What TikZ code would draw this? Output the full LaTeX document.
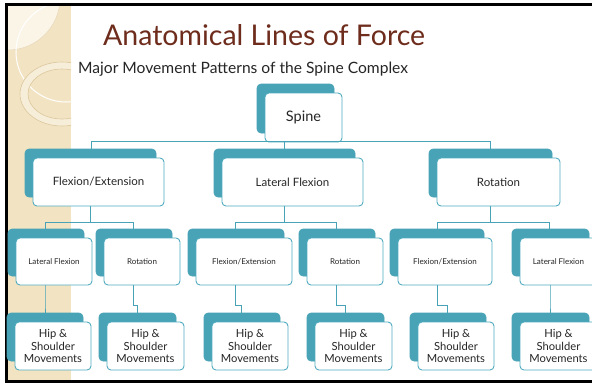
\documentclass[tikz,border=0pt]{standalone}
\usepackage{fontspec}
\setmainfont{Lato}
\definecolor{teal1}{HTML}{48A3B6}
\definecolor{teal2}{HTML}{52ABBE}
\definecolor{beige}{HTML}{F2E3C2}
\definecolor{cream}{HTML}{FBF5E8}
\definecolor{tan1}{HTML}{DCC79D}
\definecolor{titlec}{HTML}{6E2C1C}
\tikzset{
  shadebox/.style={fill=teal1, draw=teal1, line width=0.6pt, rounded corners=4pt, inner sep=0pt},
  frontbox/.style={fill=white, draw=teal2, line width=0.9pt, rounded corners=4pt, inner sep=0pt, align=center, text=black!85},
  conn/.style={draw=teal1, line width=0.9pt},
  lvone/.style={font=\fontsize{14.5}{16}\selectfont},
  lvtwo/.style={font=\fontsize{11.5}{13}\selectfont},
  lvthree/.style={font=\fontsize{8}{9.5}\selectfont},
  lvfour/.style={font=\fontsize{11.2}{12.5}\selectfont},
}
% #1 name, #2 cx, #3 cy, #4 w, #5 h, #6 style, #7 text
\newcommand\mybox[7]{%
  \node[shadebox, minimum width=#4pt, minimum height=#5pt] (s#1) at ({#2-8},{#3-9}) {};
  \node[frontbox, minimum width=#4pt, minimum height=#5pt, #6] (#1) at (#2,#3) {#7};
}
\begin{document}
\begin{tikzpicture}[x=1pt,y=-1pt]
\useasboundingbox (0,0) rectangle (592,384);
\fill[white] (0,0) rectangle (592,384);
% left strip
\fill[beige] (8,6) rectangle (71,380);
\begin{scope}
  \clip (8,6) rectangle (71,380);
  \fill[cream] (8,-2) circle (52);
  \draw[tan1!70, line width=0.5pt] (8,-2) circle (52);
  \draw[white, line width=1pt] (66,52) circle (50);
  \fill[cream!60!beige, even odd rule] (62,94) ellipse (42 and 32) (62,94) ellipse (34 and 25);
  \draw[tan1, line width=0.6pt] (62,94) ellipse (42 and 32);
  \draw[tan1, line width=0.6pt] (62,94) ellipse (34 and 25);
\end{scope}
% frame
\fill[black] (5,3) rectangle (8,383);
\fill[black] (5,3) rectangle (592,6);
\fill[black] (5,380) rectangle (592,383);
% titles
\node[anchor=base west, inner sep=0pt, text=titlec, font=\fontsize{28.5}{32}\selectfont] (title) at (103,45) {Anatomical Lines of Force};
\node[anchor=base west, inner sep=0pt, text=black!85, font=\fontsize{15.6}{18}\selectfont] (subtitle) at (78,73) {Major Movement Patterns of the Spine Complex};
% junction coordinates
\coordinate (t1) at (91,141.5); \coordinate (t2) at (284,141.5); \coordinate (t3) at (490,141.5);
\coordinate (u1) at (90,222); \coordinate (u1l) at (45,222); \coordinate (u1r) at (133,222);
\coordinate (u2) at (284,222); \coordinate (u2l) at (235,222); \coordinate (u2r) at (336,222);
\coordinate (u3) at (490,222); \coordinate (u3l) at (437,222); \coordinate (u3r) at (549,222);
% boxes
\mybox{spine}{303.5}{117.5}{77}{49}{lvone}{Spine}
\mybox{fe}{98.5}{182}{131}{48}{lvtwo}{Flexion/Extension}
\mybox{lf}{292.5}{182}{141}{48}{lvtwo}{Lateral Flexion}
\mybox{ro}{498.5}{182}{123}{48}{lvtwo}{Rotation}
\mybox{a1}{54}{261.5}{76}{47}{lvthree}{Lateral Flexion}
\mybox{a2}{142}{261.5}{76}{47}{lvthree}{Rotation}
\mybox{a3}{244}{261.5}{96}{47}{lvthree}{Flexion/Extension}
\mybox{a4}{345}{261.5}{76}{47}{lvthree}{Rotation}
\mybox{a5}{445}{261.5}{94}{47}{lvthree}{Flexion/Extension}
\mybox{a6}{558.5}{261.5}{77}{47}{lvthree}{Lateral Flexion}
\mybox{b1}{53}{346}{76}{48}{lvfour}{Hip \&\\Shoulder\\Movements}
\mybox{b2}{145.5}{346}{77}{48}{lvfour}{Hip \&\\Shoulder\\Movements}
\mybox{b3}{250}{346}{76}{48}{lvfour}{Hip \&\\Shoulder\\Movements}
\mybox{b4}{353.5}{346}{77}{48}{lvfour}{Hip \&\\Shoulder\\Movements}
\mybox{b5}{456}{346}{76}{48}{lvfour}{Hip \&\\Shoulder\\Movements}
\mybox{b6}{558.5}{346}{77}{48}{lvfour}{Hip \&\\Shoulder\\Movements}
% connectors
\draw[conn] (sfe.north -| t1) -- (t1) -- (t3) -- (sro.north -| t3);
\draw[conn] (spine.south -| t2) -- (slf.north -| t2);
\draw[conn] (fe.south -| u1) -- (u1);
\draw[conn] (sa1.north -| u1l) -- (u1l) -- (u1r) -- (sa2.north -| u1r);
\draw[conn] (lf.south -| u2) -- (u2);
\draw[conn] (sa3.north -| u2l) -- (u2l) -- (u2r) -- (sa4.north -| u2r);
\draw[conn] (ro.south -| u3) -- (u3);
\draw[conn] (sa5.north -| u3l) -- (u3l) -- (u3r) -- (sa6.north -| u3r);
\foreach \i/\s/\e in {1/45/45, 2/133/137, 3/235/241, 4/336/345, 5/437/447, 6/550/550} {
  \coordinate (v\i) at (\s,305);
  \coordinate (w\i) at (\e,305);
  \draw[conn] (a\i.south -| v\i) -- (v\i) -- (w\i) -- (sb\i.north -| w\i);
}
\end{tikzpicture}
\end{document}
